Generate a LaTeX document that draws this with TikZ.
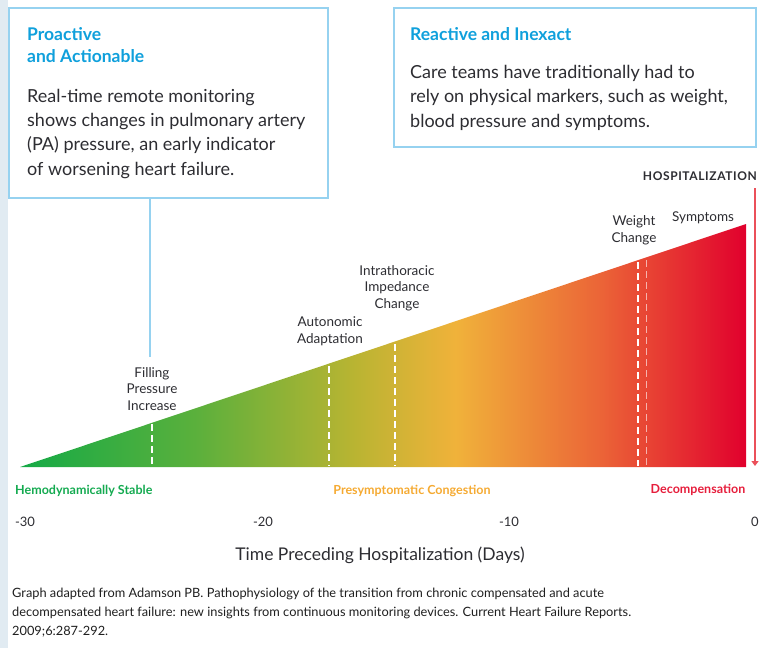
\documentclass[tikz,border=0pt]{standalone}
\usepackage{fontspec}
\setmainfont{Lato}
\newfontfamily\hospfont[LetterSpace=5.0]{Lato}
\usetikzlibrary{arrows.meta}
\definecolor{boxblue}{RGB}{150,210,240}
\definecolor{titleblue}{RGB}{15,160,220}
\definecolor{bodygray}{RGB}{45,45,50}
\definecolor{lblgreen}{RGB}{20,170,80}
\definecolor{lblorange}{RGB}{245,170,50}
\definecolor{lblred}{RGB}{230,30,60}
\definecolor{arrowred}{RGB}{235,80,90}
\definecolor{stripblue}{RGB}{225,235,242}
\definecolor{cg}{RGB}{20,170,70}
\definecolor{cg2}{RGB}{90,176,60}
\definecolor{cy}{RGB}{185,180,50}
\definecolor{co}{RGB}{240,178,58}
\definecolor{cr1}{RGB}{235,100,55}
\definecolor{cr}{RGB}{225,0,45}
\pgfdeclarehorizontalshading{heat}{100bp}{color(0bp)=(cg); color(25bp)=(cg); color(37bp)=(cg2); color(48bp)=(cy); color(55bp)=(co); color(65bp)=(cr1); color(75bp)=(cr); color(100bp)=(cr)}
\tikzset{
  infobox/.style={draw=boxblue, line width=2pt, fill=white, inner sep=0pt},
  boxtitle/.style={anchor=base west, inner sep=0pt, align=left, text=titleblue, font=\fontsize{17.5}{22}\selectfont\bfseries},
  boxbody/.style={anchor=base west, inner sep=0pt, align=left, text=bodygray, font=\fontsize{18}{24.3}\selectfont},
  eventlbl/.style={anchor=base, inner sep=0pt, align=center, text=bodygray, font=\fontsize{13.5}{16.5}\selectfont},
  phaselbl/.style={anchor=base, inner sep=0pt, font=\fontsize{12.5}{14}\selectfont\bfseries},
  ticklbl/.style={anchor=base, inner sep=0pt, text=bodygray, font=\fontsize{13}{15}\selectfont},
  marker/.style={draw=white, line width=1.4pt, dash pattern=on 7pt off 4pt},
}
\begin{document}
\begin{tikzpicture}[x=1pt,y=-1pt]
\useasboundingbox (0,0) rectangle (769,648);
\fill[stripblue] (0,0) rectangle (8,648);
% gradient triangle
\shade[shading=heat] (20,467) -- (746,224) -- (746,467) -- cycle;
% markers
\coordinate (m1b) at (152,466); \coordinate (m1t) at (152,424);
\coordinate (m2b) at (329,466); \coordinate (m2t) at (329,366);
\coordinate (m3b) at (395,466); \coordinate (m3t) at (395,344);
\coordinate (m4b) at (638,466); \coordinate (m4t) at (638,262);
\coordinate (m5b) at (646,466); \coordinate (m5t) at (646,260);
\draw[marker] (m1t) -- (m1b);
\draw[marker] (m2t) -- (m2b);
\draw[marker] (m3t) -- (m3b);
\draw[marker] (m4t) -- (m4b);
\draw[marker, line width=1pt, draw opacity=0.6] (m5t) -- (m5b);
% boxes
\node[infobox, minimum width=319pt, minimum height=190pt] (lbox) at (168.5,103) {};
\node[infobox, minimum width=362pt, minimum height=139pt] (rbox) at (575,77.5) {};
\coordinate (fpend) at (150,357);
\draw[boxblue, line width=1.5pt] (lbox.south -| fpend) -- (fpend);
\node[boxtitle] (ltitle) at (27,62) {Proactive\\and Actionable};
\node[boxbody] (lbody) at (27,175) {Real-time remote monitoring\\shows changes in pulmonary artery\\(PA) pressure, an early indicator\\of worsening heart failure.};
\node[boxtitle] (rtitle) at (410,40) {Reactive and Inexact};
\node[boxbody] (rbody) at (410,127) {Care teams have traditionally had to\\rely on physical markers, such as weight,\\blood pressure and symptoms.};
% event labels
\node[eventlbl] (fill) at (152,410) {Filling\\Pressure\\Increase};
\node[eventlbl] (auto) at (330,343) {Autonomic\\Adaptation};
\node[eventlbl] (intra) at (397,308) {Intrathoracic\\Impedance\\Change};
\node[eventlbl] (weight) at (634,242) {Weight\\Change};
\node[eventlbl] (symp) at (703,221) {Symptoms};
\node[anchor=base east, inner sep=0pt, text=bodygray, font=\fontsize{12}{14}\hospfont\bfseries] (hosp) at (757,180) {HOSPITALIZATION};
\coordinate (arrtop) at (755,188);
\coordinate (arrbot) at (755,466);
\draw[arrowred, line width=1.6pt, -{Triangle[width=7pt,length=5pt]}] (arrtop) -- (arrbot);
% phase labels
\node[phaselbl, text=lblgreen, anchor=base west] (stable) at (15,494) {Hemodynamically Stable};
\node[phaselbl, text=lblorange] (presym) at (412,494) {Presymptomatic Congestion};
\node[phaselbl, text=lblred] (decomp) at (698,493) {Decompensation};
% axis ticks
\node[ticklbl] (t30) at (25,526) {-30};
\node[ticklbl] (t20) at (263,526) {-20};
\node[ticklbl] (t10) at (509,526) {-10};
\node[ticklbl] (t0) at (755,526) {0};
\node[anchor=base, inner sep=0pt, text=bodygray, font=\fontsize{17.5}{20}\selectfont] (xlabel) at (380,560) {Time Preceding Hospitalization (Days)};
% caption
\node[anchor=base west, inner sep=0pt, align=left, text=black!88, font=\fontsize{12.8}{19}\selectfont] (cap) at (12,635) {Graph adapted from Adamson PB. Pathophysiology of the transition from chronic compensated and acute\\decompensated heart failure: new insights from continuous monitoring devices. Current Heart Failure Reports.\\2009;6:287-292.};
\end{tikzpicture}
\end{document}
